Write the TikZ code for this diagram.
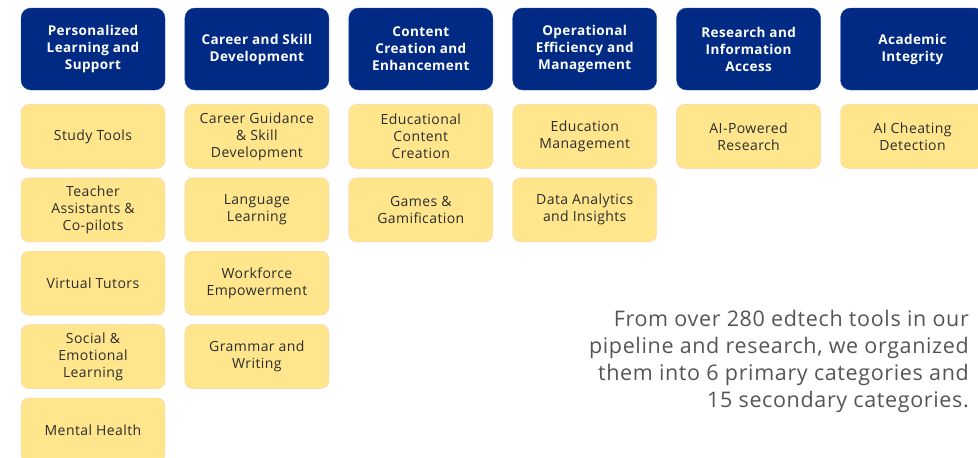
\documentclass[tikz,border=0pt]{standalone}
\usepackage{fontspec}
\setmainfont[LetterSpace=3]{Open Sans}
\usetikzlibrary{positioning}
\definecolor{navy}{RGB}{0,42,132}
\definecolor{navyedge}{RGB}{25,75,175}
\definecolor{butter}{RGB}{255,229,140}
\definecolor{peach}{RGB}{252,206,165}
\definecolor{ink}{RGB}{45,45,45}
\definecolor{slate}{RGB}{85,85,85}
\tikzstyle{primary}=[rectangle, rounded corners=10pt, draw=navyedge, fill=navy, text=white, minimum width=144pt, minimum height=82pt, inner sep=0pt, align=center, font=\bfseries\fontsize{13.5}{17}\selectfont]
\tikzstyle{secondary}=[rectangle, rounded corners=8pt, draw=peach, fill=butter, text=ink, minimum width=144pt, minimum height=64pt, inner sep=0pt, align=center, font=\fontsize{14}{17}\selectfont]
\tikzstyle{note}=[align=right, text=slate, inner sep=0pt, font=\fontsize{21.5}{27}\selectfont]
\begin{document}
\begin{tikzpicture}[x=1pt, y=-1pt]
            \useasboundingbox (0,0) rectangle (978,458);
            % primary categories
            \node[primary](p1) at (93,49) {Personalized\\Learning and\\Support};
            \node[primary, right = 19.5pt of p1](p2){Career and Skill\\Development};
            \node[primary, right = 19.5pt of p2](p3){Content\\Creation and\\Enhancement};
            \node[primary, right = 19.5pt of p3](p4){Operational\\Efficiency and\\Management};
            \node[primary, right = 19.5pt of p4](p5){Research and\\Information\\Access};
            \node[primary, right = 19.5pt of p5](p6){Academic\\Integrity};
            % secondary under p1
            \node[secondary, below = 14pt of p1](s11){Study Tools};
            \node[secondary, below = 9pt of s11](s12){Teacher\\Assistants \&\\Co-pilots};
            \node[secondary, below = 9pt of s12](s13){Virtual Tutors};
            \node[secondary, below = 9pt of s13](s14){Social \&\\Emotional\\Learning};
            \node[secondary, below = 9pt of s14](s15){Mental Health};
            % secondary under p2
            \node[secondary, below = 14pt of p2](s21){Career Guidance\\\& Skill\\Development};
            \node[secondary, below = 9pt of s21](s22){Language\\Learning};
            \node[secondary, below = 9pt of s22](s23){Workforce\\Empowerment};
            \node[secondary, below = 9pt of s23](s24){Grammar and\\Writing};
            % secondary under p3
            \node[secondary, below = 14pt of p3](s31){Educational\\Content\\Creation};
            \node[secondary, below = 9pt of s31](s32){Games \&\\Gamification};
            % secondary under p4
            \node[secondary, below = 14pt of p4](s41){Education\\Management};
            \node[secondary, below = 9pt of s41](s42){Data Analytics\\and Insights};
            % secondary under p5, p6
            \node[secondary, below = 14pt of p5](s51){AI-Powered\\Research};
            \node[secondary, below = 14pt of p6](s61){AI Cheating\\Detection};
            % summary text
            \node[note, anchor=east](summary) at (969,361) {From over 280 edtech tools in our\\pipeline and research, we organized\\them into 6 primary categories and\\15 secondary categories.};
\end{tikzpicture}
\end{document}
